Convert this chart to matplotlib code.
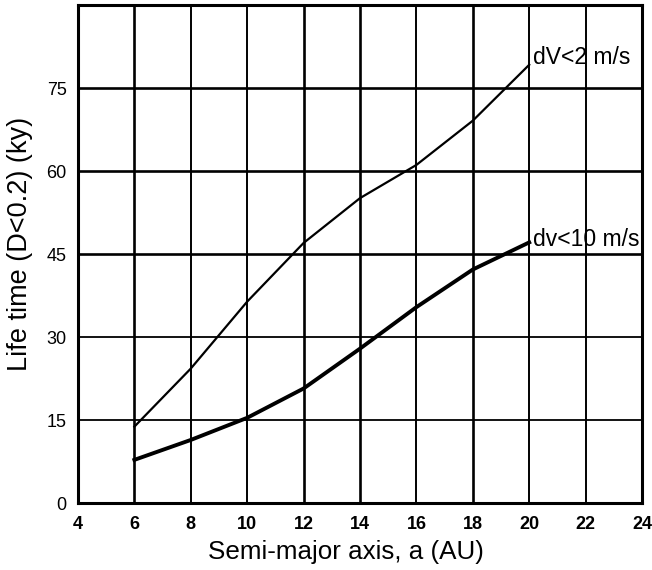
import matplotlib
matplotlib.use("Agg")
import matplotlib.pyplot as plt

# Semi-major axis (AU) and lifetimes (ky) for two velocity-dispersion thresholds
semi_major_axis = [6, 8, 10, 12, 14, 16, 18, 20]
life_dv2 = [13.8, 24.3, 36.4, 47.0, 55.1, 61.1, 69.1, 79.2]
life_dv10 = [7.8, 11.4, 15.4, 20.7, 27.9, 35.4, 42.2, 47.1]

x_ticks = [4, 6, 8, 10, 12, 14, 16, 18, 20, 22, 24]
y_ticks = [0, 15, 30, 45, 60, 75]
series_labels = ["dV<2 m/s", "dv<10 m/s"]

plt.rcParams["font.family"] = ["Liberation Sans", "DejaVu Sans"]

fig = plt.figure(figsize=(6.52, 5.70), dpi=100)
ax = fig.add_axes([0.1196, 0.1175, 0.8651, 0.8737])

ax.set_xlim(4, 24)
ax.set_ylim(0, 90)

# grid drawn by hand so some lines can be heavier
v_heavy = {6, 12, 14, 18}
for xv in x_ticks[1:-1]:
    ax.axvline(xv, color="black", lw=1.9 if xv in v_heavy else 1.4, zorder=1)
h_heavy = {45, 60, 75}
for yv in y_ticks[1:]:
    ax.axhline(yv, color="black", lw=1.9 if yv in h_heavy else 1.3, zorder=1)

ax.plot(semi_major_axis, life_dv2, color="black", lw=1.6, zorder=3)
ax.plot(semi_major_axis, life_dv10, color="black", lw=2.8, zorder=3)

ax.text(20.15, 80.6, series_labels[0], fontsize=16.5, ha="left", va="center",
        clip_on=False, zorder=4)
ax.text(20.15, 47.6, series_labels[1], fontsize=16.5, ha="left", va="center",
        clip_on=False, zorder=4)

for side in ax.spines.values():
    side.set_linewidth(2.2)

ax.set_xticks(x_ticks)
ax.set_yticks(y_ticks)
ax.tick_params(axis="both", length=0)
ax.tick_params(axis="x", pad=9, labelsize=13)
ax.tick_params(axis="y", pad=8, labelsize=13)
for lab in ax.get_xticklabels():
    lab.set_fontweight("bold")

fig.text(0.5307, 0.031, "Semi-major axis, a (AU)", fontsize=18.7,
         ha="center", va="center")
fig.text(0.031, 0.572, "Life time (D<0.2) (ky)", fontsize=19.5,
         ha="center", va="center", rotation=90)

fig.savefig("out.png", dpi=100, facecolor="white")
